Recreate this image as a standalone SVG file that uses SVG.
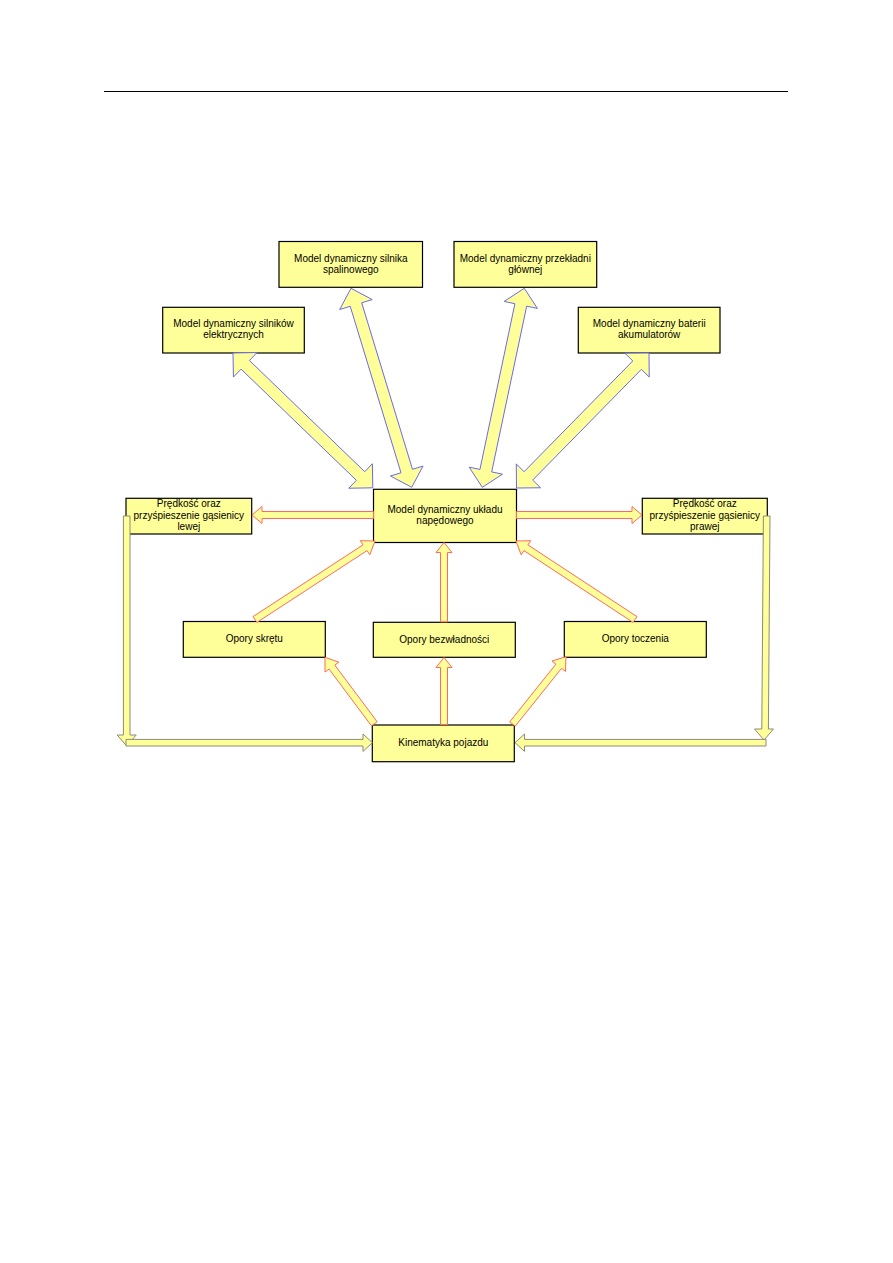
<svg xmlns="http://www.w3.org/2000/svg" width="893" height="1263" viewBox="0 0 893 1263">
<style>
.box{fill:#ffff99;stroke:#000;stroke-width:1.2}
.t{font-family:"Liberation Sans",Arial,sans-serif;font-size:10px;fill:#000;text-anchor:middle}
.ab{fill:#ffff99;stroke:#6a6ae8;stroke-width:1}
.ar{fill:#ffff99;stroke:#ff6a5a;stroke-width:1}
.ag{fill:#ffff99;stroke:#8c8c78;stroke-width:1}
</style>
<rect width="893" height="1263" fill="#fff"/>
<line x1="104" y1="91.5" x2="788" y2="91.5" stroke="#000" stroke-width="1.2"/>

<g id="n-spalinowy"><rect class="box" x="279" y="241.5" width="143.5" height="45.8"/>
<text class="t" x="350.8" y="261.5">Model dynamiczny silnika</text><text class="t" x="350.8" y="273.3">spalinowego</text></g>
<g id="n-przekladnia"><rect class="box" x="454" y="241.5" width="142.7" height="45.8"/>
<text class="t" x="525.3" y="261.5">Model dynamiczny przekładni</text><text class="t" x="525.3" y="273.3">głównej</text></g>
<g id="n-elektryczne"><rect class="box" x="162.7" y="307.3" width="141.6" height="45.7"/>
<text class="t" x="233.5" y="326.7">Model dynamiczny silników</text><text class="t" x="233.5" y="338.3">elektrycznych</text></g>
<g id="n-baterie"><rect class="box" x="578.3" y="307.3" width="141.7" height="45.7"/>
<text class="t" x="649.2" y="326.7">Model dynamiczny baterii</text><text class="t" x="649.2" y="338.3">akumulatorów</text></g>
<g id="n-naped"><rect class="box" x="373.5" y="489.3" width="143" height="53.2"/>
<text class="t" x="445" y="512.5">Model dynamiczny układu</text><text class="t" x="445" y="523.8">napędowego</text></g>
<g id="n-lewa"><rect class="box" x="126" y="498.3" width="125.7" height="35.7"/>
<text class="t" x="188.8" y="507">Prędkość oraz</text><text class="t" x="188.8" y="518.5">przyśpieszenie gąsienicy</text><text class="t" x="188.8" y="529.8">lewej</text></g>
<g id="n-prawa"><rect class="box" x="642.3" y="498.3" width="125" height="35.7"/>
<text class="t" x="704.8" y="507">Prędkość oraz</text><text class="t" x="704.8" y="518.5">przyśpieszenie gąsienicy</text><text class="t" x="704.8" y="529.8">prawej</text></g>
<g id="n-skret"><rect class="box" x="183.3" y="621.5" width="142" height="35.8"/>
<text class="t" x="254.3" y="642.3">Opory skrętu</text></g>
<g id="n-bezwladnosc"><rect class="box" x="373.3" y="622.3" width="142" height="35"/>
<text class="t" x="444.3" y="642.6">Opory bezwładności</text></g>
<g id="n-toczenie"><rect class="box" x="564.3" y="621.5" width="142" height="35.8"/>
<text class="t" x="635.3" y="642.3">Opory toczenia</text></g>
<g id="n-kinematyka"><rect class="box" x="372.3" y="725" width="142" height="36.7"/>
<text class="t" x="443.3" y="746">Kinematyka pojazdu</text></g>

<g id="connectors">
<polygon class="ab" points="233,353 233.44,377.04 241.08,369.12 356.40,480.32 348.76,488.24 372.8,487.8 372.36,463.76 364.72,471.68 249.40,360.48 257.04,352.56"/>
<polygon class="ab" points="351,288.3 339.70,309.52 350.22,306.31 401.00,472.79 390.48,476.00 411.7,487.3 423.00,466.08 412.48,469.29 361.70,302.81 372.22,299.60"/>
<polygon class="ab" points="524.3,288.3 504.16,301.42 514.92,303.69 479.94,469.43 469.18,467.16 482.3,487.3 502.44,474.18 491.68,471.91 526.66,306.17 537.42,308.44"/>
<polygon class="ab" points="649,353 624.96,353.22 632.81,360.93 524.13,471.67 516.28,463.96 516.5,488 540.54,487.78 532.69,480.07 641.37,369.33 649.22,377.04"/>
<polygon class="ar" points="373.5,511.5 262,511.5 262,506.5 252,515 262,523.5 262,518.5 373.5,518.5"/>
<polygon class="ar" points="516.5,511.5 632,511.5 632,506.5 642,515 632,523.5 632,518.5 516.5,518.5"/>
<polygon class="ar" points="256.96,622.40 367.01,550.61 369.81,554.75 375,541 360.29,540.67 363.09,544.81 253.04,616.60"/>
<polygon class="ar" points="440.5,621.8 440.5,552.5 436,552.5 444,542.5 452,552.5 447.5,552.5 447.5,621.8"/>
<polygon class="ar" points="636.97,616.61 527.89,544.86 530.70,540.72 516,541 521.14,554.78 523.95,550.64 633.03,622.39"/>
<polygon class="ar" points="377.16,721.78 334.80,665.07 338.88,662.18 325,657.3 325.00,672.00 329.08,669.11 371.44,725.82"/>
<polygon class="ar" points="440.5,724.5 440.5,667.5 436,667.5 444,657.5 452,667.5 447.5,667.5 447.5,724.5"/>
<polygon class="ar" points="515.28,726.12 561.50,668.36 565.48,671.40 566,656.7 551.96,661.08 555.94,664.12 509.72,721.88"/>
<polygon class="ag" points="123.4,516 123.4,735 117.2,735 126.7,746 136.2,735 130,735 130,516"/>
<polygon class="ag" points="126,739.4 363,739.4 363,734 372.3,742.7 363,751.4 363,746 126,746"/>
<polygon class="ag" points="763.4,516 761.8,729 754.5,729 764,740 773.5,729 768.4,729 770,516"/>
<polygon class="ag" points="766,739.4 524.5,739.4 524.5,734 515,742.7 524.5,751.4 524.5,746 766,746"/>
</g>
</svg>
